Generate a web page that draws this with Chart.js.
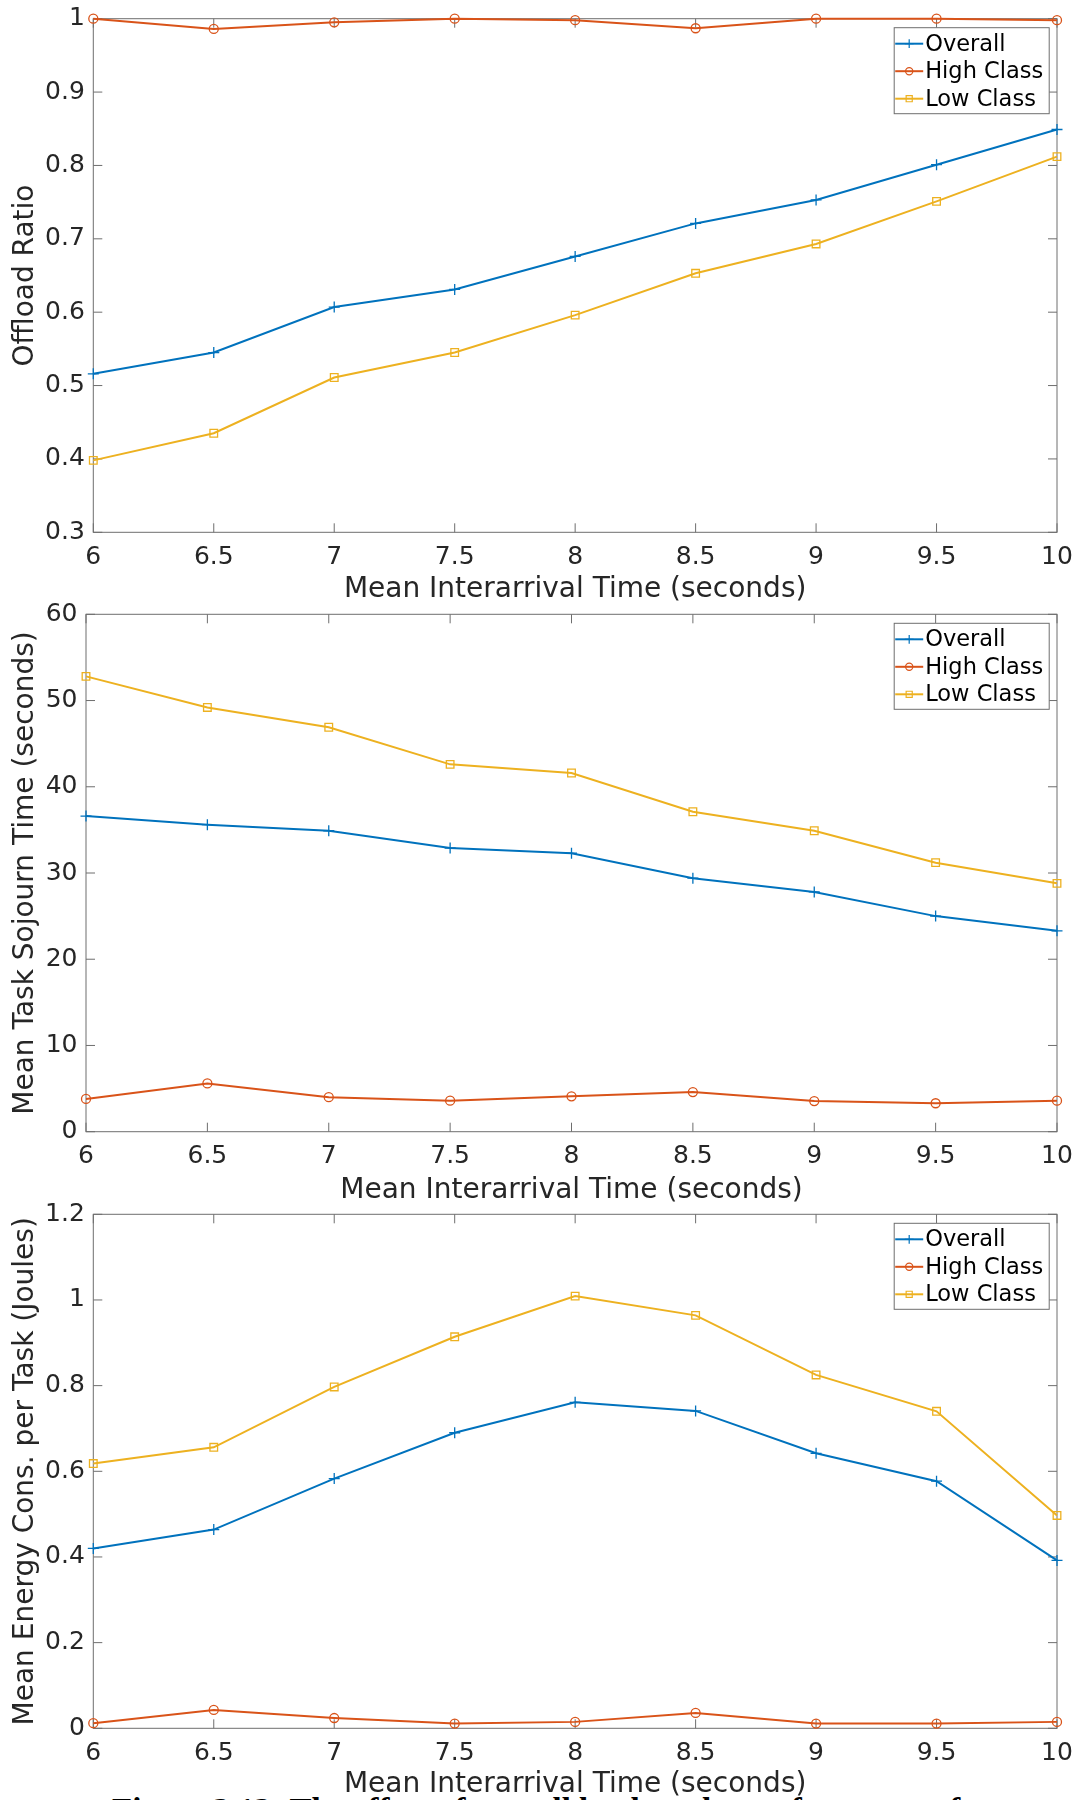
<!DOCTYPE html>
<html>
<head>
<meta charset="utf-8">
<script src="https://cdn.jsdelivr.net/npm/chart.js@4.4.1/dist/chart.umd.min.js"></script>
<style>
  html, body { margin: 0; padding: 0; background: #ffffff; }
  body { position: relative; width: 1078px; height: 1800px; overflow: hidden; }
  canvas { position: absolute; left: 0; }
  #cap { position: absolute; left: 112px; top: 1794px; font: bold 33px 'Liberation Serif', 'Times New Roman', serif; line-height: 33px; white-space: nowrap; color: #000; }
</style>
</head>
<body>
<div id="cap">Figure 3.13: The effect of overall load on the performance of</div>
<canvas id="c1" width="1100" height="613" style="top:-6px"></canvas>
<canvas id="c2" width="1100" height="618" style="top:590px"></canvas>
<canvas id="c3" width="1100" height="612" style="top:1190px"></canvas>
<script>
// ---------- data ----------
const xLabels = ['6', '6.5', '7', '7.5', '8', '8.5', '9', '9.5', '10'];
const seriesNames = ['Overall', 'High Class', 'Low Class'];
const xTitle = 'Mean Interarrival Time (seconds)';

const offloadOverall = [0.516, 0.545, 0.607, 0.631, 0.676, 0.721, 0.753, 0.801, 0.849];
const offloadHigh    = [1.000, 0.986, 0.995, 1.000, 0.998, 0.987, 1.000, 1.000, 0.998];
const offloadLow     = [0.398, 0.435, 0.511, 0.545, 0.596, 0.653, 0.693, 0.751, 0.812];
const offloadTicks   = [0.3, 0.4, 0.5, 0.6, 0.7, 0.8, 0.9, 1.0];
const offloadTickLabels = ['0.3', '0.4', '0.5', '0.6', '0.7', '0.8', '0.9', '1'];

const sojournOverall = [36.6, 35.6, 34.9, 32.9, 32.3, 29.4, 27.8, 25.0, 23.3];
const sojournHigh    = [3.8, 5.6, 4.0, 3.6, 4.1, 4.6, 3.55, 3.3, 3.6];
const sojournLow     = [52.8, 49.2, 46.9, 42.6, 41.6, 37.1, 34.9, 31.2, 28.8];
const sojournTicks   = [0, 10, 20, 30, 40, 50, 60];
const sojournTickLabels = ['0', '10', '20', '30', '40', '50', '60'];

const energyOverall = [0.420, 0.464, 0.583, 0.690, 0.761, 0.741, 0.642, 0.577, 0.392];
const energyHigh    = [0.012, 0.043, 0.024, 0.011, 0.015, 0.036, 0.011, 0.011, 0.015];
const energyLow     = [0.618, 0.656, 0.797, 0.914, 1.009, 0.964, 0.825, 0.740, 0.497];
const energyTicks   = [0, 0.2, 0.4, 0.6, 0.8, 1.0, 1.2];
const energyTickLabels = ['0', '0.2', '0.4', '0.6', '0.8', '1', '1.2'];

// ---------- styles ----------
const COLORS = ['#0072BD', '#D95319', '#EDB120'];
const STYLES = ['cross', 'circle', 'rect'];
const RADII = [5.5, 4.5, 5.4];
const AXIS_COLOR = '#6e6e6e';
const TEXT_COLOR = '#262626';
const FONT = "'DejaVu Sans', 'Noto Sans', sans-serif";

function drawMarker(ctx, style, x, y, r, color) {
  ctx.save();
  ctx.strokeStyle = color;
  ctx.lineWidth = 1.2;
  ctx.beginPath();
  if (style === 'cross') {
    ctx.moveTo(x - r, y); ctx.lineTo(x + r, y);
    ctx.moveTo(x, y - r); ctx.lineTo(x, y + r);
  } else if (style === 'circle') {
    ctx.arc(x, y, r, 0, Math.PI * 2);
  } else {
    const s = r * Math.SQRT1_2;
    ctx.rect(x - s, y - s, 2 * s, 2 * s);
  }
  ctx.stroke();
  ctx.restore();
}

const framePlugin = {
  id: 'frame',
  beforeDatasetsDraw(chart) {
    const { ctx, chartArea: a, scales } = chart;
    const x = scales.x, y = scales.y;
    ctx.save();
    ctx.strokeStyle = AXIS_COLOR;
    ctx.lineWidth = 1;
    ctx.beginPath();
    x.ticks.forEach((t, i) => {
      const px = x.getPixelForTick(i);
      ctx.moveTo(px, a.bottom); ctx.lineTo(px, a.bottom - 9);
      ctx.moveTo(px, a.top); ctx.lineTo(px, a.top + 9);
    });
    y.ticks.forEach((t) => {
      const py = y.getPixelForValue(t.value);
      ctx.moveTo(a.left, py); ctx.lineTo(a.left + 9, py);
      ctx.moveTo(a.right, py); ctx.lineTo(a.right - 9, py);
    });
    ctx.stroke();
    ctx.strokeRect(a.left, a.top, a.right - a.left, a.bottom - a.top);
    ctx.restore();
  }
};

const legendPlugin = {
  id: 'boxLegend',
  afterDatasetsDraw(chart) {
    const { ctx, chartArea: a } = chart;
    const w = 155, h = 86;
    const L = a.right - 7.8 - w, T = a.top + 9;
    ctx.save();
    ctx.fillStyle = '#ffffff';
    ctx.fillRect(L, T, w, h);
    ctx.strokeStyle = AXIS_COLOR;
    ctx.lineWidth = 1;
    ctx.strokeRect(L, T, w, h);
    ctx.font = '22.5px ' + FONT;
    ctx.textBaseline = 'middle';
    ctx.textAlign = 'left';
    const rows = [16, 43.5, 71];
    chart.data.datasets.forEach((ds, i) => {
      const cy = T + rows[i];
      ctx.strokeStyle = ds.borderColor;
      ctx.lineWidth = 2;
      ctx.beginPath();
      ctx.moveTo(L + 1, cy); ctx.lineTo(L + 29, cy);
      ctx.stroke();
      drawMarker(ctx, ds.pointStyle, L + 15, cy, ds.pointRadius * 0.8, ds.borderColor);
      ctx.fillStyle = '#000000';
      ctx.fillText(ds.label, L + 31, cy + 1);
    });
    ctx.restore();
  }
};

function makeDataset(i, data) {
  return {
    label: seriesNames[i],
    data: data,
    borderColor: COLORS[i],
    backgroundColor: COLORS[i],
    borderWidth: 2,
    pointStyle: STYLES[i],
    pointRadius: RADII[i],
    pointHoverRadius: RADII[i],
    pointBorderWidth: 1.3,
    pointBorderColor: COLORS[i],
    pointBackgroundColor: 'rgba(0,0,0,0)',
    tension: 0,
    fill: false,
    clip: false
  };
}

function makeChart(id, seriesData, yMin, yMax, yTicks, yTickLabels, yTitle, geo) {
  const ctx = document.getElementById(id);
  return new Chart(ctx, {
    type: 'line',
    data: {
      labels: xLabels,
      datasets: seriesData.map((d, i) => makeDataset(i, d))
    },
    options: {
      responsive: false,
      animation: false,
      events: [],
      layout: { padding: { top: geo.padTop, right: 43, bottom: 0, left: 0 } },
      plugins: { legend: { display: false }, tooltip: { enabled: false } },
      scales: {
        x: {
          type: 'category',
          offset: false,
          grid: { display: false, drawTicks: false },
          border: { display: false },
          ticks: { font: { family: FONT, size: 25 }, color: TEXT_COLOR, padding: 10, maxRotation: 0, autoSkip: false },
          title: { display: true, text: xTitle, font: { family: FONT, size: 28 }, color: TEXT_COLOR, padding: { top: 0, bottom: 0.2 } },
          afterFit: (s) => { s.height = geo.xHeight; }
        },
        y: {
          type: 'linear',
          min: yMin,
          max: yMax,
          grid: { display: false, drawTicks: false },
          border: { display: false },
          afterBuildTicks: (s) => { s.ticks = yTicks.map(v => ({ value: v })); },
          ticks: { font: { family: FONT, size: 25 }, color: TEXT_COLOR, padding: 8.5, callback: (v, i) => yTickLabels[i] },
          title: { display: true, text: yTitle, font: { family: FONT, size: 28 }, color: TEXT_COLOR, padding: { top: 9.2, bottom: 0 } },
          afterFit: (s) => { s.width = geo.yWidth; }
        }
      }
    },
    plugins: [framePlugin, legendPlugin]
  });
}

makeChart('c1', [offloadOverall, offloadHigh, offloadLow], 0.3, 1, offloadTicks, offloadTickLabels,
  'Offload Ratio', { padTop: 24.7, xHeight: 74.7, yWidth: 93.3 });
makeChart('c2', [sojournOverall, sojournHigh, sojournLow], 0, 60, sojournTicks, sojournTickLabels,
  'Mean Task Sojourn Time (seconds)', { padTop: 24.3, xHeight: 76.3, yWidth: 86 });
makeChart('c3', [energyOverall, energyHigh, energyLow], 0, 1.2, energyTicks, energyTickLabels,
  'Mean Energy Cons. per Task (Joules)', { padTop: 24.3, xHeight: 73.7, yWidth: 93.3 });
</script>
</body>
</html>
